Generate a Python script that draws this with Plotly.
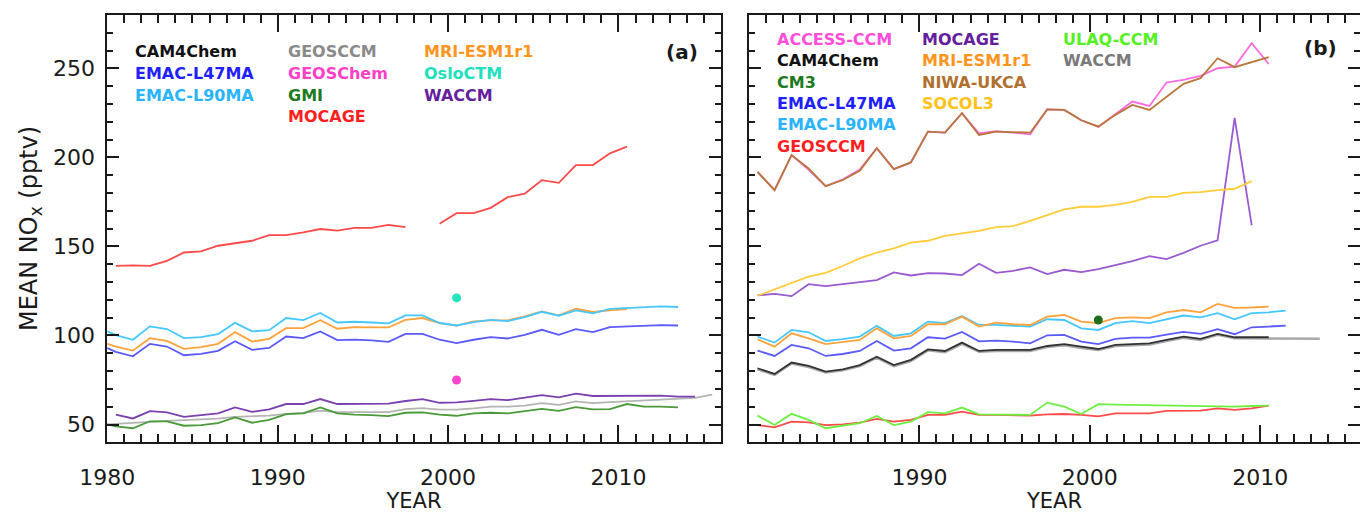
import plotly.graph_objects as go

# ---------------------------------------------------------------
# Annual-mean NOx (pptv); each value is plotted at mid-year.
# Every series is stored as a first year plus its yearly values.
# ---------------------------------------------------------------

# Panel (a)
A_EMAC_L90MA_START = 1979
A_EMAC_L90MA = [104.5, 100.2, 97.6, 105.1, 103.6, 98.5, 99.1, 100.8, 107.1, 102.3,
                103.0, 109.8, 108.6, 112.6, 107.3, 107.7, 107.3, 106.8, 111.3, 111.3,
                107.0, 105.6, 107.5, 108.8, 108.1, 110.3, 113.3, 111.1, 114.1, 112.4,
                115.0, 115.6, 116.2, 116.4, 116.0]
A_MRI_START = 1979
A_MRI = [97.0, 93.7, 91.5, 98.5, 97.0, 92.5, 93.4, 95.3, 101.9, 96.6,
         98.1, 104.1, 104.1, 108.6, 103.8, 104.7, 104.5, 104.5, 108.8, 109.8,
         107.0, 105.5, 107.9, 108.5, 108.5, 110.7, 113.5, 111.3, 115.0, 113.2,
         114.1, 114.8]
A_EMAC_L47MA_START = 1979
A_EMAC_L47MA = [95.0, 90.8, 88.3, 95.3, 93.8, 88.9, 89.7, 91.4, 96.8, 91.9,
                93.0, 99.4, 98.5, 102.3, 97.4, 97.7, 97.2, 96.4, 100.9, 100.9,
                97.6, 95.7, 97.6, 99.1, 98.3, 100.4, 103.2, 100.4, 103.6, 101.9,
                104.7, 105.1, 105.6, 105.8, 105.6]
A_WACCM_START = 1980
A_WACCM = [55.5, 53.4, 57.5, 56.8, 54.3, 55.1, 56.2, 59.6, 57.1, 58.5,
           61.5, 61.5, 64.3, 61.5, 61.7, 61.5, 61.7, 63.2, 64.3, 62.2,
           62.4, 63.3, 64.3, 63.7, 65.2, 66.5, 65.2, 67.3, 66.0, 66.0,
           66.2, 66.0, 66.2, 65.6, 65.6]
A_GEOSCCM_START = 1979
A_GEOSCCM = [49.8, 50.5, 51.0, 51.5, 52.0, 52.3, 52.8, 53.3, 54.3, 54.5,
             55.0, 56.0, 56.5, 57.8, 57.0, 57.0, 57.2, 57.0, 58.6, 59.2,
             58.4, 58.4, 59.0, 60.0, 60.0, 60.6, 62.0, 61.0, 63.0, 62.0,
             62.6, 63.0, 63.6, 64.0, 64.2, 65.0, 66.8]
A_GMI_START = 1979
A_GMI = [51.2, 48.9, 47.9, 51.8, 51.7, 49.3, 49.6, 50.8, 54.0, 51.0,
         52.6, 55.8, 56.2, 59.6, 56.2, 55.5, 55.3, 54.7, 56.6, 56.8,
         55.6, 54.9, 56.2, 56.6, 56.2, 57.7, 58.8, 57.7, 59.8, 58.5,
         58.6, 61.5, 60.0, 60.0, 59.6]
A_MOCAGE_START = 1980
A_MOCAGE = [139.1, 139.4, 139.1, 141.9, 146.6, 147.2, 150.4, 151.7, 153.2, 156.4,
            156.4, 157.9, 159.8, 158.9, 160.4, 160.4, 162.1, 160.8, None, 162.8,
            168.7, 168.7, 171.7, 177.7, 179.6, 187.2, 185.7, 195.7, 195.7, 202.3,
            206.1]
A_OSLOCTM_YEAR, A_OSLOCTM = 2000, 121.1
A_GEOSCHEM_YEAR, A_GEOSCHEM = 2000, 75.0

# Panel (b)
B_ACCESS_START = 1980
B_ACCESS = [191.9, 181.6, 201.3, 193.0, 183.9, 187.6, 193.2, 205.2, 193.4, 197.2,
            214.5, 213.9, 224.8, 213.5, 214.8, 214.1, 213.0, 227.0, 226.7, 220.9,
            217.3, 224.2, 231.4, 228.9, 242.1, 243.6, 245.8, 250.1, 251.0, 264.2,
            252.5]
B_NIWA_START = 1980
B_NIWA = [191.9, 181.6, 201.3, 193.8, 183.9, 187.3, 192.5, 205.2, 193.4, 197.2,
          214.5, 213.9, 224.8, 212.6, 214.5, 214.1, 213.9, 227.0, 226.7, 220.9,
          217.3, 223.9, 229.5, 226.7, 234.2, 241.3, 244.5, 255.7, 250.7, 253.3,
          256.3]
B_SOCOL3_START = 1980
B_SOCOL3 = [122.3, 125.8, 129.6, 133.0, 135.2, 139.0, 143.3, 146.6, 148.9, 152.2,
            153.2, 156.0, 157.3, 158.8, 160.9, 161.4, 164.4, 167.4, 170.8, 172.3,
            172.3, 173.4, 175.1, 177.9, 177.9, 180.1, 180.5, 181.6, 182.4, 186.7]
B_MOCAGE_START = 1980
B_MOCAGE = [122.5, 123.4, 122.1, 128.8, 127.7, 128.7, 130.0, 131.1, 135.4, 133.7,
            135.0, 134.8, 133.9, 140.3, 135.2, 136.3, 138.2, 134.5, 136.9, 135.6,
            137.3, 139.5, 141.8, 144.6, 142.9, 146.4, 150.4, 153.4, 222.2, 162.0]
B_MRI_START = 1980
B_MRI = [97.9, 93.7, 101.2, 98.4, 95.1, 96.2, 97.5, 104.0, 98.4, 99.7,
         106.3, 106.3, 110.6, 105.0, 107.2, 106.3, 105.9, 110.6, 111.5, 107.8,
         106.9, 109.7, 110.2, 109.7, 113.0, 114.3, 113.0, 117.7, 115.5, 115.7,
         116.2]
B_EMAC_L90MA_START = 1980
B_EMAC_L90MA = [99.4, 96.0, 103.1, 101.8, 96.9, 97.9, 99.4, 105.4, 99.7, 101.2,
                107.8, 106.9, 111.0, 105.9, 105.9, 105.4, 105.0, 109.1, 108.7, 104.0,
                103.1, 106.9, 108.0, 106.9, 109.1, 111.2, 110.2, 112.5, 109.1, 112.5,
                113.0, 114.0]
B_EMAC_L47MA_START = 1980
B_EMAC_L47MA = [91.5, 88.5, 94.7, 92.8, 88.5, 89.6, 91.3, 96.9, 91.5, 92.8,
                99.0, 98.2, 102.0, 96.7, 97.1, 96.6, 95.6, 100.1, 100.3, 96.6,
                95.1, 98.1, 98.8, 98.8, 100.5, 102.0, 100.9, 103.5, 100.7, 104.6,
                105.0, 105.5]
B_CAM4CHEM_START = 1980
B_CAM4CHEM = [81.6, 78.4, 84.8, 82.9, 79.7, 81.0, 83.4, 88.1, 83.4, 86.3,
              92.2, 91.3, 96.0, 91.3, 91.9, 91.9, 91.9, 94.1, 95.1, 93.7,
              92.4, 94.7, 95.2, 95.6, 97.5, 99.4, 98.1, 100.9, 99.0, 99.0,
              99.0]
B_WACCM_START = 1980
B_WACCM = [81.0, 77.9, 84.2, 82.3, 79.2, 80.4, 82.8, 87.5, 82.8, 85.6,
           91.6, 90.6, 95.3, 90.8, 91.2, 91.2, 91.3, 93.5, 94.5, 93.0,
           91.8, 94.0, 94.5, 94.9, 96.8, 98.7, 97.5, 100.3, 98.4, 98.4,
           98.4, 98.1, 98.5, 98.2]
B_ULAQ_START = 1980
B_ULAQ = [55.0, 49.7, 56.0, 52.6, 47.9, 49.2, 50.7, 54.8, 49.7, 51.6,
          56.9, 56.3, 59.5, 55.7, 55.7, 55.5, 55.4, 62.3, 60.0, 55.9,
          61.4, 61.2, 61.0, 60.8, 60.6, 60.4, 60.2, 60.0, 60.0, 60.4,
          60.6]
B_GEOSCCM_START = 1980
B_GEOSCCM = [49.7, 48.4, 51.6, 51.2, 49.7, 50.1, 51.0, 53.1, 51.6, 52.6,
             55.4, 55.4, 57.2, 55.4, 55.4, 55.0, 55.0, 55.7, 55.9, 55.4,
             54.6, 56.3, 56.3, 56.3, 57.6, 57.8, 57.8, 59.1, 58.2, 59.1,
             60.6]
B_CM3_YEAR, B_CM3 = 2000, 108.7

# Legend entries (text, colour) per column
A_LEGEND = [
    [("CAM4Chem", "#111111"), ("EMAC-L47MA", "#1f1fff"), ("EMAC-L90MA", "#2ab4ff")],
    [("GEOSCCM", "#8a8a8a"), ("GEOSChem", "#ff3fc8"), ("GMI", "#1e7a1e"), ("MOCAGE", "#ff1f1f")],
    [("MRI-ESM1r1", "#ff9420"), ("OsloCTM", "#1fe0bc"), ("WACCM", "#64209c")],
]
B_LEGEND = [
    [("ACCESS-CCM", "#ff4fd8"), ("CAM4Chem", "#111111"), ("CM3", "#1e7a1e"),
     ("EMAC-L47MA", "#1f1fff"), ("EMAC-L90MA", "#2ab4ff"), ("GEOSCCM", "#ff1f1f")],
    [("MOCAGE", "#64209c"), ("MRI-ESM1r1", "#ff9420"), ("NIWA-UKCA", "#b0702e"),
     ("SOCOL3", "#ffc21a")],
    [("ULAQ-CCM", "#55f022"), ("WACCM", "#7a7a7a")],
]

W, H = 1360, 513
INK = "#1a1a1a"
FONT = "DejaVu Sans"


def mid_years(start, values):
    return [start + i + 0.5 for i in range(len(values))]


fig = go.Figure()


def add_line(start, values, color, axis, width=1.8):
    xa, ya = axis
    fig.add_trace(go.Scatter(x=mid_years(start, values), y=values, mode="lines",
                             line=dict(color=color, width=width),
                             connectgaps=False, xaxis=xa, yaxis=ya,
                             hoverinfo="skip"))


def add_dot(year, value, color, axis):
    xa, ya = axis
    fig.add_trace(go.Scatter(x=[year + 0.5], y=[value], mode="markers",
                             marker=dict(color=color, size=9),
                             xaxis=xa, yaxis=ya, hoverinfo="skip"))


PA = ("x", "y")
PB = ("x2", "y2")

# panel (a)
add_line(A_GEOSCCM_START, A_GEOSCCM, "#b4b4b4", PA)
add_line(A_GMI_START, A_GMI, "#4a9a3a", PA)
add_line(A_WACCM_START, A_WACCM, "#7b3fb0", PA)
add_line(A_EMAC_L47MA_START, A_EMAC_L47MA, "#5a5aff", PA)
add_line(A_MRI_START, A_MRI, "#ffa23c", PA)
add_line(A_EMAC_L90MA_START, A_EMAC_L90MA, "#45c8ff", PA)
add_line(A_MOCAGE_START, A_MOCAGE, "#ff4a4a", PA)
add_dot(A_OSLOCTM_YEAR, A_OSLOCTM, "#22e6c0", PA)
add_dot(A_GEOSCHEM_YEAR, A_GEOSCHEM, "#ff44cc", PA)

# panel (b)
add_line(B_GEOSCCM_START, B_GEOSCCM, "#ff4a4a", PB)
add_line(B_ULAQ_START, B_ULAQ, "#6cf040", PB)
add_line(B_WACCM_START, B_WACCM, "#a8a8a8", PB, width=2.4)
add_line(B_CAM4CHEM_START, B_CAM4CHEM, "#333333", PB)
add_line(B_EMAC_L47MA_START, B_EMAC_L47MA, "#5a5aff", PB)
add_line(B_EMAC_L90MA_START, B_EMAC_L90MA, "#45c8ff", PB)
add_line(B_MRI_START, B_MRI, "#ffa23c", PB)
add_line(B_MOCAGE_START, B_MOCAGE, "#9a5ad0", PB)
add_line(B_SOCOL3_START, B_SOCOL3, "#ffcc3a", PB)
add_line(B_ACCESS_START, B_ACCESS, "#ff6ae0", PB)
add_line(B_NIWA_START, B_NIWA, "#b8773a", PB)
add_dot(B_CM3_YEAR, B_CM3, "#1e6e1e", PB)


def xaxis_cfg(domain, rng, tickvals, anchor):
    return dict(domain=domain, range=rng, anchor=anchor, automargin=False,
                showline=True, linewidth=2, linecolor=INK, mirror="ticks",
                ticks="inside", ticklen=17, tickwidth=2, tickcolor=INK,
                tickmode="array", tickvals=tickvals,
                ticktext=[str(v) for v in tickvals],
                minor=dict(ticks="inside", ticklen=8, tickwidth=2, tickcolor=INK,
                           tickmode="linear", tick0=1980, dtick=1, showgrid=False),
                tickfont=dict(family=FONT, size=22, color=INK),
                ticklabelstandoff=14,
                showgrid=False, zeroline=False,
                title=dict(text="YEAR", font=dict(family=FONT, size=21, color=INK),
                           standoff=2))


def yaxis_cfg(domain, anchor, labels):
    return dict(domain=domain, range=[40, 280], anchor=anchor, automargin=False,
                showline=True, linewidth=2, linecolor=INK, mirror="ticks",
                ticks="inside", ticklen=12, tickwidth=2, tickcolor=INK,
                tickmode="linear", tick0=0, dtick=50,
                minor=dict(ticks="inside", ticklen=6, tickwidth=2, tickcolor=INK,
                           tickmode="linear", tick0=0, dtick=10, showgrid=False),
                showticklabels=labels,
                tickfont=dict(family=FONT, size=22, color=INK),
                ticklabelstandoff=6,
                showgrid=False, zeroline=False)


y_dom = [1 - 442.3 / H, 1 - 15 / H]
fig.update_layout(
    template="none",
    width=W, height=H, margin=dict(l=0, r=0, t=0, b=0, pad=0),
    paper_bgcolor="white", plot_bgcolor="white", showlegend=False,
    xaxis=xaxis_cfg([107.3 / W, 720.7 / W], [1980, 2016], [1980, 1990, 2000, 2010], "y"),
    yaxis=yaxis_cfg(y_dom, "x", True),
    xaxis2=xaxis_cfg([749 / W, 1.0], [1980, 1980 + 611 / 17.04], [1990, 2000, 2010], "y2"),
    yaxis2=yaxis_cfg(y_dom, "x2", False),
)

annotations = []


def legend(cols, col_x, row_y0, row_dy):
    for xpx, col in zip(col_x, cols):
        for i, (name, color) in enumerate(col):
            annotations.append(dict(
                text=name, x=xpx / W, y=1 - (row_y0 + i * row_dy) / H,
                xref="paper", yref="paper", xanchor="left", yanchor="middle",
                showarrow=False,
                font=dict(family=FONT, size=16, color=color, weight="bold")))


legend(A_LEGEND, [133, 286, 422], 51.7, 21.7)
legend(B_LEGEND, [775, 920, 1061], 39.3, 21.4)

for label, xr, yc in [("(a)", 700, 52), ("(b)", 1339, 48)]:
    annotations.append(dict(text=label, x=xr / W, y=1 - yc / H, xref="paper", yref="paper",
                            xanchor="right", yanchor="middle", showarrow=False,
                            font=dict(family=FONT, size=20, color=INK, weight="bold")))

annotations.append(dict(text="MEAN NO<sub>x</sub> (pptv)", x=30 / W, y=1 - 229 / H,
                        xref="paper", yref="paper", xanchor="center", yanchor="middle",
                        textangle=-90, showarrow=False,
                        font=dict(family=FONT, size=24, color=INK)))

fig.update_layout(annotations=annotations)
fig.write_html("out.html")
